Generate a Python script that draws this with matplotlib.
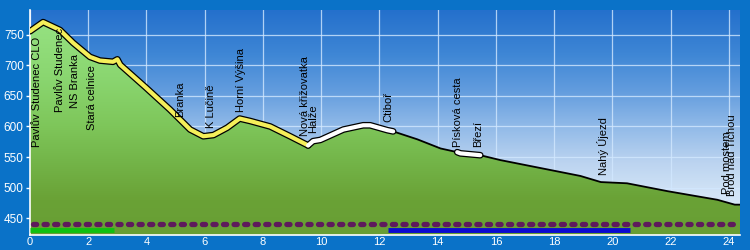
import numpy as np
import matplotlib
matplotlib.use("Agg")
import matplotlib.pyplot as plt
from matplotlib.colors import LinearSegmentedColormap
from matplotlib.patches import Polygon

plt.rcParams['font.family'] = ['Liberation Sans', 'DejaVu Sans']

# ---- data ----
dist = [0.0, 0.45, 1.03, 1.48, 2.06, 2.4, 2.85, 3.0, 3.1, 3.95, 4.8, 5.5, 5.95, 6.3,
        6.77, 7.2, 7.56, 8.25, 8.93, 9.55, 9.72, 9.97, 10.76, 11.44, 11.68, 12.27,
        12.47, 13.3, 14.1, 14.67, 14.78, 15.46, 16.15, 18.9, 19.6, 20.5, 21.9,
        23.6, 24.2, 24.38]
elev = [756, 771, 758, 737, 714, 708, 706, 710, 701, 665, 628, 595, 584, 586,
        598, 613, 609, 600, 584, 569, 576, 578, 595, 602, 602, 594,
        592, 579, 564, 558, 556, 553, 545, 519, 509, 507, 494,
        480, 472, 472]

# highlighted sections of the profile (start km, end km, colour)
sections = [(0.0, 9.55, '#f5ef5a'), (9.55, 12.47, '#ffffff'), (14.67, 15.46, '#ffffff')]

# route bars under the profile (start km, end km, colour)
bars = [(0.0, 2.9, '#10c010'), (12.3, 20.6, '#0a0ad0')]
dots_level = 440
bars_level = 430.5

wp_names = ["Pavlův Studenec CLO", "Pavlův Studenec", "NS Branka", "Stará celnice",
            "Branka", "K Lučině", "Horní Výšina", "Nová křižovatka", "Halže",
            "Ctiboř", "Písková cesta", "Březí", "Nahý Újezd", "Pod mostem",
            "Brod nad Tichou"]
wp_km = [0.24, 1.03, 1.55, 2.13, 5.15, 6.22, 7.25, 9.44, 9.72, 12.29, 14.7,
         15.38, 19.68, 23.94, 24.1]
wp_elev = [567, 624, 631, 595, 615, 598, 624, 584, 590, 607, 567, 566, 520,
           489, 486]

xticks = list(range(0, 25, 2))
yticks = [450, 500, 550, 600, 650, 700, 750]

XMIN, XMAX = 0, 24.38
YMIN, YMAX = 422.3, 790.8

# ---- figure ----
fig = plt.figure(figsize=(7.5, 2.5), dpi=100)
fig.patch.set_facecolor('#0a72c8')
ax = fig.add_axes([30/750, 15/250, 710/750, 225/250])
ax.set_xlim(XMIN, XMAX)
ax.set_ylim(YMIN, YMAX)

def elev_cmap(name, stops):
    lo, hi = stops[0][0], stops[-1][0]
    return LinearSegmentedColormap.from_list(
        name, [((e - lo) / (hi - lo), tuple(v / 255 for v in c)) for e, c in stops]), lo, hi

# sky gradient (by elevation)
sky, slo, shi = elev_cmap('sky', [(422.3, (224, 238, 250)), (490, (210, 228, 246)),
                                  (540, (188, 212, 240)), (600, (145, 186, 232)),
                                  (660, (98, 156, 222)), (720, (62, 134, 213)),
                                  (790.8, (36, 112, 204))])
ax.imshow(np.linspace(0, 1, 512).reshape(-1, 1), aspect='auto', cmap=sky, origin='lower',
          extent=[XMIN, XMAX, slo, shi], zorder=0)

ax.grid(True, color='#d2e8ff', linewidth=0.9, alpha=0.8, zorder=1)
for gl in ax.get_xgridlines() + ax.get_ygridlines():
    gl.set_zorder(1)

# ground gradient clipped to profile
xs = np.array(dist)
ys = np.array(elev)
poly_xy = np.column_stack([np.r_[xs, xs[-1], xs[0]], np.r_[ys, YMIN, YMIN]])
poly = Polygon(poly_xy, closed=True, facecolor='none', edgecolor='none')
ax.add_patch(poly)
ground, glo, ghi = elev_cmap('ground', [(422.3, (104, 158, 52)), (480, (106, 162, 54)),
                                        (540, (115, 180, 72)), (600, (126, 198, 90)),
                                        (680, (138, 214, 112)), (775, (150, 226, 130))])
gimg = ax.imshow(np.linspace(0, 1, 512).reshape(-1, 1), aspect='auto', cmap=ground,
                 origin='lower', extent=[XMIN, XMAX, glo, ghi], zorder=2)
gimg.set_clip_path(poly)

# profile line
ax.plot(xs, ys, color='black', linewidth=1.3, zorder=3)
for a, b, c in sections:
    m = (xs >= a - 1e-9) & (xs <= b + 1e-9)
    ax.plot(xs[m], ys[m], color='black', linewidth=4.8, solid_capstyle='round',
            solid_joinstyle='round', zorder=4)
    ax.plot(xs[m], ys[m], color=c, linewidth=3.0, solid_capstyle='round',
            solid_joinstyle='round', zorder=5)

# dotted line and route bars
ax.plot([0.1, XMAX], [dots_level, dots_level], color='#5e1a5c', linewidth=3.8,
        linestyle=(0, (0.6, 1.4)), dash_capstyle='round', zorder=6)
for a, b, c in bars:
    ax.plot([a, b], [bars_level, bars_level], color=c, linewidth=3.5,
            solid_capstyle='butt', zorder=6)

# waypoint labels
for name, k, e in zip(wp_names, wp_km, wp_elev):
    ax.text(k, e, name, rotation=90, ha='center', va='bottom', fontsize=8,
            color='black', zorder=7)

# axes styling
ax.set_xticks(xticks)
ax.set_yticks(yticks)
ax.tick_params(colors='white', labelsize=8.5, length=3, width=1, pad=1.5)
ax.tick_params(axis='x', length=0, pad=1.5, labelsize=8)
for s in ['top', 'right']:
    ax.spines[s].set_visible(False)
for s in ['left', 'bottom']:
    ax.spines[s].set_color('white')
    ax.spines[s].set_linewidth(1.2)

fig.savefig('out.png', dpi=100, facecolor=fig.get_facecolor())
